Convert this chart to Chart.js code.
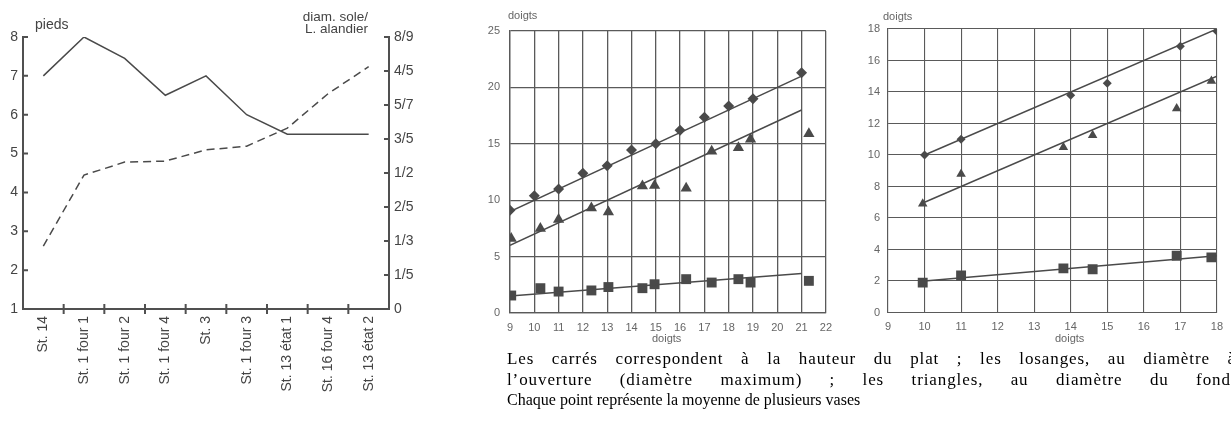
<!DOCTYPE html>
<html>
<head>
<meta charset="utf-8">
<script src="https://cdn.jsdelivr.net/npm/chart.js@4.4.0/dist/chart.umd.min.js"></script>
<style>
  html, body { margin: 0; padding: 0; background: #fff; }
  body { width: 1231px; height: 432px; position: relative; overflow: hidden; font-family: "Liberation Sans", Arial, sans-serif; }
  .box { position: absolute; }
  .lbl { position: absolute; color: #555; white-space: nowrap; }
  .caption { position: absolute; left: 507px; top: 349px; width: 729px; font-family: "Liberation Serif", "Times New Roman", serif; font-size: 16px; line-height: 20.5px; color: #000; }
  .caption .j { text-align: justify; text-align-last: justify; font-size: 17px; letter-spacing: 0.9px; }
</style>
</head>
<body>
<div class="box" style="left:0;top:0"><canvas id="c1" width="420" height="432"></canvas></div>
<div class="box" style="left:450px;top:0"><canvas id="c2" width="390" height="345"></canvas></div>
<div class="box" style="left:840px;top:0"><canvas id="c3" width="391" height="345"></canvas></div>

<div class="lbl" style="left:35px;top:16px;font-size:14px;color:#444">pieds</div>
<div class="lbl" style="right:863px;top:11px;font-size:13.5px;line-height:11.5px;text-align:right;color:#444">diam. sole/<br>L. alandier</div>
<div class="lbl" style="left:508px;top:9px;font-size:11px;color:#666">doigts</div>
<div class="lbl" style="left:883px;top:10px;font-size:11px;color:#666">doigts</div>
<div class="lbl" style="left:652px;top:332px;font-size:11px;color:#666">doigts</div>
<div class="lbl" style="left:1055px;top:332px;font-size:11px;color:#666">doigts</div>

<div class="caption">
  <div class="j">Les carrés correspondent à la hauteur du plat ; les losanges, au diamètre à</div>
  <div class="j">l’ouverture (diamètre maximum) ; les triangles, au diamètre du fond.</div>
  <div>Chaque point représente la moyenne de plusieurs vases</div>
</div>

<script>
// left chart: furnaces
const stations = ['St. 14', 'St. 1 four 1', 'St. 1 four 2', 'St. 1 four 4', 'St. 3', 'St. 1 four 3', 'St. 13 état 1', 'St. 16 four 4', 'St. 13 état 2'];
const pieds = [7, 8, 7.45, 6.5, 7, 6, 5.5, 5.5, 5.5];
// dashed line, position on the right axis (index of ratio tick)
const ratioPos = [1.85, 3.94, 4.32, 4.35, 4.68, 4.79, 5.32, 6.33, 7.13];
const ratioTicks = ['0', '1/5', '1/3', '2/5', '1/2', '3/5', '5/7', '4/5', '8/9'];

// middle chart (doigts)
const midDiamX = [9, 10, 11, 12, 13, 14, 15, 16, 17, 18, 19, 21];
const midDiamY = [9.1, 10.4, 11.0, 12.4, 13.05, 14.45, 15.0, 16.2, 17.35, 18.35, 19.0, 21.3];
const midTriX = [9.05, 10.25, 11, 12.35, 13.05, 14.45, 14.95, 16.25, 17.3, 18.4, 18.9, 21.3];
const midTriY = [6.6, 7.5, 8.3, 9.3, 8.95, 11.25, 11.3, 11.05, 14.35, 14.65, 15.4, 15.9];
const midSqX = [9.05, 10.25, 11, 12.35, 13.05, 14.45, 14.95, 16.25, 17.3, 18.4, 18.9, 21.3];
const midSqY = [1.55, 2.2, 1.9, 2.0, 2.3, 2.2, 2.55, 3.0, 2.7, 3.0, 2.7, 2.85];
const midDiamFit = [[9, 9], [21, 21]];
const midTriFit = [[9, 6], [21, 18]];
const midSqFit = [[9, 1.5], [21, 3.5]];

// right chart (doigts)
const rDiamX = [10, 11, 14, 15, 17, 18];
const rDiamY = [10, 11, 13.8, 14.55, 16.9, 17.85];
const rTriX = [9.95, 11, 13.8, 14.6, 16.9, 17.85];
const rTriY = [6.9, 8.8, 10.5, 11.25, 12.95, 14.7];
const rSqX = [9.95, 11, 13.8, 14.6, 16.9, 17.85];
const rSqY = [1.9, 2.35, 2.8, 2.75, 3.6, 3.5];
const rDiamFit = [[10, 10], [18, 18]];
const rTriFit = [[10, 7], [18, 15]];
const rSqFit = [[10, 2], [18, 3.6]];

const ink = '#4a4a4a';
const axisColor = '#505050';

// small inward tick marks like the printed figure
const furnaceTicks = {
  id: 'furnaceTicks',
  afterDraw(chart) {
    const { ctx, scales: { x, y, y2 } } = chart;
    ctx.save();
    ctx.strokeStyle = axisColor;
    ctx.lineWidth = 2;
    ctx.beginPath();
    y.ticks.forEach(t => {
      if (t.value === y.min) return;
      const p = y.getPixelForValue(t.value);
      ctx.moveTo(y.right, p); ctx.lineTo(y.right + 5, p);
    });
    y2.ticks.forEach(t => {
      if (t.value === y2.min) return;
      const p = y2.getPixelForValue(t.value);
      ctx.moveTo(y2.left - 5, p); ctx.lineTo(y2.left, p);
    });
    for (let i = 1; i < stations.length; i++) {
      const p = (x.getPixelForValue(i - 1) + x.getPixelForValue(i)) / 2;
      ctx.moveTo(p, x.top - 5); ctx.lineTo(p, x.top + 5);
    }
    ctx.stroke();
    ctx.restore();
  }
};

new Chart(document.getElementById('c1'), {
  type: 'line',
  data: {
    labels: stations,
    datasets: [
      { data: pieds, yAxisID: 'y', borderColor: ink, borderWidth: 1.5, pointRadius: 0, tension: 0 },
      { data: ratioPos, yAxisID: 'y2', borderColor: ink, borderWidth: 1.5, borderDash: [8, 5], pointRadius: 0, tension: 0 }
    ]
  },
  options: {
    responsive: false,
    animation: false,
    layout: { padding: { top: 37, left: 0, right: 0, bottom: 0 } },
    plugins: { legend: { display: false }, tooltip: { enabled: false } },
    scales: {
      x: {
        offset: true,
        grid: { display: true, drawOnChartArea: false, drawTicks: false, lineWidth: 2 },
        border: { display: true, color: axisColor, width: 2 },
        ticks: { maxRotation: 90, minRotation: 90, padding: 7, color: '#444', font: { size: 14, family: 'Liberation Sans' } },
        afterFit: s => { s.height = 123; }
      },
      y: {
        position: 'left', min: 1, max: 8,
        grid: { display: true, drawOnChartArea: false, drawTicks: false, lineWidth: 2 },
        border: { display: true, color: axisColor, width: 2 },
        ticks: { stepSize: 1, padding: 5, color: '#444', font: { size: 14, family: 'Liberation Sans' } },
        afterFit: s => { s.width = 23; }
      },
      y2: {
        position: 'right', min: 0, max: 8,
        grid: { display: true, drawOnChartArea: false, drawTicks: false, lineWidth: 2 },
        border: { display: true, color: axisColor, width: 2 },
        ticks: { stepSize: 1, padding: 5, color: '#444', font: { size: 14, family: 'Liberation Sans' },
          callback: v => ratioTicks[v] },
        afterFit: s => { s.width = 31; }
      }
    }
  },
  plugins: [furnaceTicks]
});

const pts = (xs, ys) => xs.map((x, i) => ({ x: x, y: ys[i] }));
const fit = f => f.map(p => ({ x: p[0], y: p[1] }));

function doigtsChart(id, o) {
  const mark = (data, style, r) => ({ data: data, showLine: false, pointStyle: style, pointRadius: r,
    backgroundColor: ink, borderColor: ink, borderWidth: 0 });
  const line = data => ({ data: data, showLine: true, pointRadius: 0, borderColor: ink, borderWidth: 1.5 });
  new Chart(document.getElementById(id), {
    type: 'scatter',
    data: {
      datasets: [
        line(fit(o.diamFit)), line(fit(o.triFit)), line(fit(o.sqFit)),
        mark(pts(o.diamX, o.diamY), 'rectRot', o.rd),
        mark(pts(o.triX, o.triY), 'triangle', o.rt),
        mark(pts(o.sqX, o.sqY), 'rect', o.rs)
      ]
    },
    options: {
      responsive: false,
      animation: false,
      layout: { padding: { top: o.top, right: o.right, left: 0, bottom: 0 } },
      plugins: { legend: { display: false }, tooltip: { enabled: false } },
      scales: {
        x: {
          type: 'linear', min: o.xmin, max: o.xmax,
          grid: { color: '#5a5a5a', lineWidth: o.gw, drawTicks: false },
          border: { display: true, color: '#5a5a5a', width: o.gw },
          ticks: { stepSize: 1, padding: 8, color: '#666', font: { size: 11, family: 'Liberation Sans' } },
          afterFit: s => { s.height = o.xh; }
        },
        y: {
          min: 0, max: o.ymax,
          grid: { color: '#5a5a5a', lineWidth: o.gw, drawTicks: false },
          border: { display: true, color: '#5a5a5a', width: o.gw },
          ticks: { stepSize: o.ystep, padding: o.ypad, color: '#666', font: { size: 11, family: 'Liberation Sans' } },
          afterFit: s => { s.width = o.yw; }
        }
      }
    }
  });
}

doigtsChart('c2', {
  diamX: midDiamX, diamY: midDiamY, triX: midTriX, triY: midTriY, sqX: midSqX, sqY: midSqY,
  diamFit: midDiamFit, triFit: midTriFit, sqFit: midSqFit,
  xmin: 9, xmax: 22, ymax: 25, ystep: 5,
  top: 31, right: 13, xh: 32, yw: 60, ypad: 10, gw: 1.3, rd: 5.5, rt: 6.5, rs: 7
});

doigtsChart('c3', {
  diamX: rDiamX, diamY: rDiamY, triX: rTriX, triY: rTriY, sqX: rSqX, sqY: rSqY,
  diamFit: rDiamFit, triFit: rTriFit, sqFit: rSqFit,
  xmin: 9, xmax: 18, ymax: 18, ystep: 2,
  top: 29, right: 8, xh: 32.5, yw: 48, ypad: 8, gw: 1.1, rd: 4.5, rt: 5.5, rs: 7
});
</script>
</body>
</html>
